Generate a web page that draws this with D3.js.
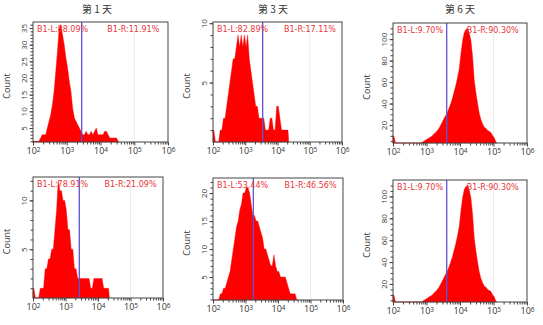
<!DOCTYPE html>
<html>
<head>
<meta charset="utf-8">
<script src="https://cdn.jsdelivr.net/npm/d3@7"></script>
<style>
  body { margin: 0; background: #fff; }
  svg { display: block; }
</style>
</head>
<body>
<div id="chart"></div>
<script>
// titles of the three columns
const dayTitles = ["第 1 天", "第 3 天", "第 6 天"];

// histogram bins: log10 start and width of each bin
const binStartLog = 2.0;
const binStepLog = 0.05;

// counts per bin
const countsDay1Top = [1,1,1,1, 2,3,3,3, 5,7, 9,12, 16,22, 28,35, 36,33, 30,26, 23,19, 16,11,
  8,7, 6,5, 4,3, 3,4, 3,3, 4,3, 4,5, 3,3, 3,3, 4,4, 3,2, 2,2, 2,2, 1];
const countsDay3Top = [1,0,0,0, 1,1,2,2, 3,4,5,6, 7,7,8,9, 8,9,8,9, 8,9,7,6, 5,4,3,3, 2,2,2,2,
  1,1,1,2, 2,1,1,3, 3,2,1,1, 1,1,1];
const countsDay6Top = [10,0,1,1, 1,1,2,2, 2,2,2,2, 2,3,3,3, 3,4,5,6, 7,8,9,10, 12,13,15,17,
  20,23,26,29, 32,36,40,45, 51,57,64,72, 86,98,106,109, 110,106,99,84, 62,50,40,31,
  25,21,18,17, 15,14,13,10, 8,4];
const countsDay1Bottom = [1,0,0,0, 1,1,1,3, 3,4,4,5, 5,7,9,12, 11,11,10,10, 9,7,7,5,
  5,3,3,2, 2,2,2,2, 2,2,2,1, 1,2,2,2, 2,2,2,1, 1,1,1];
const countsDay3Bottom = [0,0,0,0, 2,2,3,3, 4,5,6,8, 10,12,14,15, 17,18,20,20, 21,21,20,18,
  16,16,15,15, 14,13,12,10, 10,9,8,7, 7,9,7,6, 6,5,5,5, 5,4,3,2, 2,2,2,1];
const countsDay6Bottom = countsDay6Top;

// gate positions (fluorescence value) and gate percentages
const gateValues = [2770, 3470, 4010, 2660, 1740, 4010];
const leftPercents = ["88.09", "82.89", "9.70", "78.91", "53.44", "9.70"];
const rightPercents = ["11.91", "17.11", "90.30", "21.09", "46.56", "90.30"];

// axes
const xMajorTicks = [1e2, 1e3, 1e4, 1e5, 1e6];
const yLabelTicks = [[5, 10, 15, 20, 25, 30, 35], [5, 10], [20, 40, 60, 80, 100],
  [5, 10], [5, 10, 15, 20], [20, 40, 60, 80, 100]];
const yMinorStep = [1, 1, 5, 1, 1, 5];
const yDomains = [[0.8, 36.8], [0, 10.1], [3.3, 115], [0, 12.4], [0.9, 22.7], [3.5, 115]];

// frame boxes of the six panels (pixels)
const boxes = [
  {l: 33, r: 168, t: 22, b: 142},
  {l: 213, r: 342, t: 22, b: 142},
  {l: 393, r: 527, t: 23, b: 143},
  {l: 33, r: 163, t: 177, b: 298},
  {l: 213, r: 343, t: 178, b: 300},
  {l: 393, r: 527, t: 180, b: 302}
];
const allCounts = [countsDay1Top, countsDay3Top, countsDay6Top,
  countsDay1Bottom, countsDay3Bottom, countsDay6Bottom];

const svg = d3.select("#chart").append("svg")
  .attr("width", 543)
  .attr("height", 325)
  .style("font-family", "'DejaVu Sans', sans-serif");

const titleX = [97, 273, 460];
svg.selectAll("text.day-title").data(dayTitles)
  .join("text")
  .attr("class", "day-title")
  .attr("x", (d, i) => titleX[i])
  .attr("y", 13)
  .attr("text-anchor", "middle")
  .style("font-family", "'Noto Sans CJK SC', sans-serif")
  .style("font-weight", 400)
  .style("font-size", "10px")
  .attr("fill", "#333")
  .text(d => d);

boxes.forEach((box, p) => {
  const g = svg.append("g");
  const x = d3.scaleLog().domain([1e2, 1e6]).range([box.l, box.r]);
  const y = d3.scaleLinear().domain(yDomains[p]).range([box.b, box.t]).clamp(true);

  // one point per bin centre, closed at both ends
  const counts = allCounts[p];
  const pts = counts.map((c, i) => ({v: Math.pow(10, binStartLog + (i + 0.5) * binStepLog), c}));
  pts.unshift({v: Math.pow(10, binStartLog), c: counts[0]});
  pts.push({v: Math.pow(10, binStartLog + counts.length * binStepLog), c: 0});

  // faint decade line
  g.append("line")
    .attr("x1", x(1e5)).attr("x2", x(1e5))
    .attr("y1", box.t).attr("y2", box.b)
    .attr("stroke", "#ececec");

  const area = d3.area()
    .x(d => x(d.v))
    .y0(box.b)
    .y1(d => y(d.c));
  g.append("path")
    .datum(pts)
    .attr("d", area)
    .attr("fill", "#ff0000")
    .attr("stroke", "#ff0000")
    .attr("stroke-width", 0.4);

  // gate
  g.append("line")
    .attr("x1", x(gateValues[p])).attr("x2", x(gateValues[p]))
    .attr("y1", box.t).attr("y2", box.b)
    .attr("stroke", "#5a55d8")
    .attr("stroke-width", 1.3);

  g.append("text")
    .attr("x", box.l + 4)
    .attr("y", box.t + 10)
    .attr("fill", "#e8353a")
    .style("font-size", "8px")
    .text(`B1-L:${leftPercents[p]}%`);
  g.append("text")
    .attr("x", box.l + 0.55 * (box.r - box.l))
    .attr("y", box.t + 10)
    .attr("fill", "#e8353a")
    .style("font-size", "8px")
    .text(`B1-R:${rightPercents[p]}%`);

  // frame
  g.append("rect")
    .attr("x", box.l).attr("y", box.t)
    .attr("width", box.r - box.l).attr("height", box.b - box.t)
    .attr("fill", "none")
    .attr("stroke", "#444");

  // x axis: minor then major ticks
  const xMinor = [];
  for (let e = 2; e < 6; e++) for (let k = 2; k <= 9; k++) xMinor.push(k * Math.pow(10, e));
  const xMinorG = g.append("g")
    .attr("transform", `translate(0,${box.b})`)
    .call(d3.axisBottom(x).tickValues(xMinor).tickSize(2.5).tickFormat(""));
  xMinorG.select(".domain").remove();
  const xAxisG = g.append("g")
    .attr("transform", `translate(0,${box.b})`)
    .call(d3.axisBottom(x).tickValues(xMajorTicks).tickSize(3.5).tickPadding(2.5));
  xAxisG.select(".domain").remove();
  xAxisG.selectAll("line").attr("stroke", "#444");
  xMinorG.selectAll("line").attr("stroke", "#444");
  xAxisG.selectAll("text")
    .text(null)
    .attr("fill", "#333")
    .style("font-family", "'Open Sans', sans-serif")
    .style("font-size", "9px")
    .each(function(d) {
      const t = d3.select(this);
      t.append("tspan").text("10");
      t.append("tspan")
        .attr("dy", "-0.4em")
        .style("font-size", "6.5px")
        .text(Math.round(Math.log10(d)));
    });

  // y axis
  const [ylo, yhi] = yDomains[p];
  const yMinor = d3.range(Math.ceil(ylo / yMinorStep[p]) * yMinorStep[p], yhi, yMinorStep[p])
    .filter(v => v > ylo);
  const yMinorG = g.append("g")
    .attr("transform", `translate(${box.l},0)`)
    .call(d3.axisLeft(y).tickValues(yMinor).tickSize(2.5).tickFormat(""));
  yMinorG.select(".domain").remove();
  yMinorG.selectAll("line").attr("stroke", "#444");
  const yAxisG = g.append("g")
    .attr("transform", `translate(${box.l},0)`)
    .call(d3.axisLeft(y).tickValues(yLabelTicks[p]).tickSize(3.5));
  yAxisG.select(".domain").remove();
  yAxisG.selectAll("line").attr("stroke", "#444");
  yAxisG.selectAll("text")
    .attr("x", 0)
    .attr("dy", 0)
    .attr("transform", "translate(-6,0) rotate(-90)")
    .attr("text-anchor", "middle")
    .attr("fill", "#333")
    .style("font-family", "'Open Sans', sans-serif")
    .style("font-size", "8px");

  g.append("text")
    .attr("transform", `translate(${box.l - 23},${(box.t + box.b) / 2 + 4}) rotate(-90)`)
    .attr("text-anchor", "middle")
    .attr("fill", "#333")
    .style("font-family", "'Open Sans', sans-serif")
    .style("font-size", "9px")
    .text("Count");
});
</script>
</body>
</html>
